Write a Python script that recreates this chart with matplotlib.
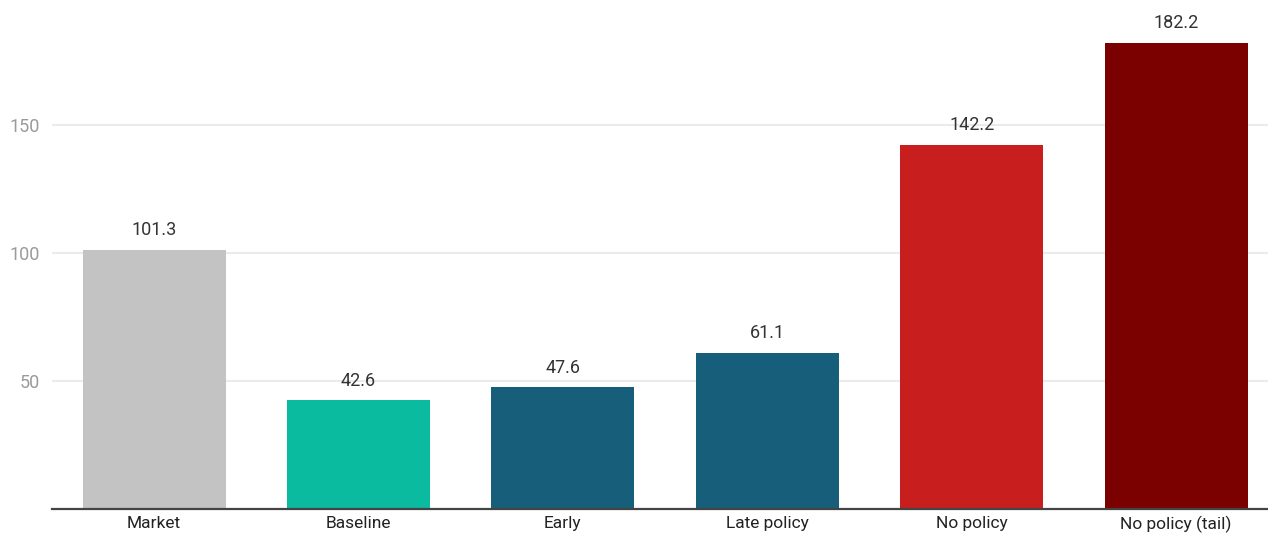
import matplotlib.pyplot as plt

plt.rcParams['font.family'] = ['Roboto', 'DejaVu Sans']

scenarios = ["Market", "Baseline", "Early", "Late policy", "No policy", "No policy (tail)"]
values = [101.3, 42.6, 47.6, 61.1, 142.2, 182.2]
colors = ["#c3c3c3", "#0abb9f", "#175e7a", "#175e7a", "#c81e1e", "#7b0000"]
yticks = [50, 100, 150]

fig = plt.figure(figsize=(12.68, 5.38), dpi=100)
ax = fig.add_axes([52 / 1268, 29 / 538, (1268 - 52) / 1268, 509 / 538])

x = range(len(scenarios))
bars = ax.bar(x, values, width=0.7, color=colors, zorder=3)

for b, v in zip(bars, values):
    ax.annotate(f"{v:.1f}", (b.get_x() + b.get_width() / 2, v),
                xytext=(0, 7.5), textcoords="offset points",
                ha="center", va="bottom", fontsize=13, color="#333333",
                zorder=4)

ax.set_xlim(-0.5, 5.45)
ax.set_ylim(0, 198.8)
ax.set_yticks(yticks)
ax.set_xticks(list(x))
ax.set_xticklabels(scenarios)
ax.yaxis.grid(True, color="#ebebeb", lw=1.5, zorder=0)
ax.tick_params(axis="y", length=0, labelsize=13, labelcolor="#9a9a9a", pad=9)
ax.tick_params(axis="x", length=0, labelsize=12.5, labelcolor="#222222", pad=5)

for s in ["top", "right", "left"]:
    ax.spines[s].set_visible(False)
ax.spines["bottom"].set_color("#444444")
ax.spines["bottom"].set_linewidth(1.6)
ax.spines["bottom"].set_zorder(5)

fig.savefig("out.png", dpi=100)
